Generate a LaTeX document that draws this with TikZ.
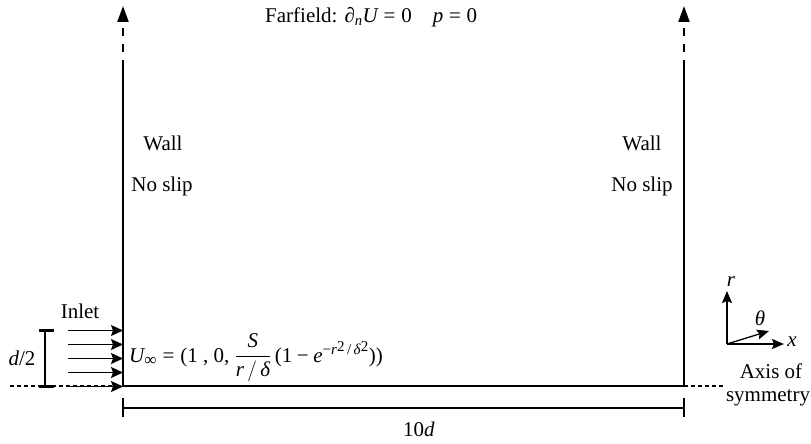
\documentclass[tikz,border=0pt]{standalone}
\usepackage{amsmath}
\usepackage{fontspec}
\setmainfont{Liberation Serif}
\newcommand{\vi}[1]{\text{\itshape #1}}
\newcommand{\vu}[1]{\text{#1}}
\newcommand{\veq}{\mathrel{\vu{=}}}
\newcommand{\vop}{\mathopen{\vu{(}}}
\newcommand{\vcl}{\mathclose{\vu{)}}}
\newcommand{\supexp}{\text{\fontsize{15}{15}\selectfont −\textit{r}\raisebox{3pt}{2}\,/\,\textit{δ}\raisebox{3pt}{2}}}
\usetikzlibrary{arrows.meta}
\begin{document}
\begin{tikzpicture}[x=1pt,y=-1pt,
  wall/.style={line width=2.2pt},
  dimline/.style={line width=2.2pt},
  axisdash/.style={line width=1.1pt,dash pattern=on 4pt off 3pt},
  topdash/.style={line width=2.2pt,dash pattern=on 8pt off 8pt},
  tip/.style={-{Triangle[length=16pt,width=11pt]}},
  inarrow/.style={line width=1.3pt,-{Stealth[length=12pt,width=11pt,inset=2pt]}},
  axarrow/.style={line width=1.3pt,-{Stealth[length=12pt,width=10pt,inset=2pt]}},
  lbl/.style={font=\fontsize{21}{25}\selectfont,inner sep=0pt}]
\useasboundingbox (0,0) rectangle (811,444);
% corners
\coordinate (BL) at (123,386);
\coordinate (BR) at (684,386);
\coordinate (TL) at (123,60);
\coordinate (TR) at (684,60);
\coordinate (TLd) at (123,52);
\coordinate (TRd) at (684,52);
\coordinate (TLa) at (123,6);
\coordinate (TRa) at (684,6);
% walls
\draw[wall] (TL) -- (BL) -- (BR) -- (TR);
\draw[topdash] (TLd) -- (123,25);
\draw[topdash] (TRd) -- (684,25);
\draw[tip, line width=2.2pt] (123,22) -- (TLa);
\draw[tip, line width=2.2pt] (684,22) -- (TRa);
% symmetry axis extensions
\coordinate (AL) at (10,386);
\coordinate (AR) at (724,386);
\draw[axisdash] (AL) -- (BL);
\draw[axisdash] (BR) -- (AR);
% dimension 10d
\coordinate (DL) at (123,408);
\coordinate (DR) at (684,408);
\draw[dimline] (DL) -- (DR);
\draw[dimline] (123,398) -- (123,417);
\draw[dimline] (684,398) -- (684,417);
\node[lbl] (ten) at (419,429) {10\textit{d}};
% d/2 bracket
\coordinate (BT) at (45,330);
\coordinate (BB) at (45,386);
\draw[line width=2.2pt] (BT) -- (BB);
\draw[line width=3pt] (38.5,330) -- (53.5,330);
\draw[line width=3pt] (38.5,386) -- (53.5,386);
\node[lbl] (dhalf) at (22,358) {\textit{d}/2};
% inlet arrows
\foreach \yy/\nm in {330.5/a,344.5/b,358.5/c,372.5/d,386.5/e}{
  \coordinate (s\nm) at (68,\yy);
  \coordinate (t\nm) at (123,\yy);
  \draw[inarrow] (s\nm) -- (t\nm);
}
\node[lbl] (inlet) at (80,311) {Inlet};
\node[lbl,anchor=base west] (uinf) at (129,362) {$\vi{U}_{\text{\fontsize{17}{17}\selectfont ∞}} \veq \vop\vu{1 , 0,}\ \dfrac{\vi{S}}{\vi{r}\,/\,\vi{δ}}\,\vop\vu{1}\mathbin{\vu{−}}\vi{e}^{\supexp}\vcl\vcl$};
% wall labels
\node[lbl] (w1) at (163,143) {Wall};
\node[lbl] (n1) at (162,186) {No slip};
\node[lbl] (w2) at (642,143) {Wall};
\node[lbl] (n2) at (642,186) {No slip};
% farfield
\node[lbl,anchor=west] (far) at (265,17) {Farfield: $\vu{∂}_{\vi{n}}\vi{U} \veq \vu{0} \quad \vi{p} \veq \vu{0}$};
% coordinate system
\coordinate (O) at (727,344);
\coordinate (Rr) at (727,291);
\coordinate (Rx) at (784,344);
\coordinate (Rt) at (769,331);
\draw[axarrow] (O) -- (Rr);
\draw[axarrow] (O) -- (Rx);
\draw[axarrow] (O) -- (Rt);
\node[lbl] (rl) at (731,282) {\textit{r}};
\node[lbl] (xl) at (792,342) {\textit{x}};
\node[lbl] (tl) at (760,318) {\textit{θ}};
\node[lbl] (ax1) at (771,371) {Axis of};
\node[lbl] (ax2) at (768,398) {symmetry};
\end{tikzpicture}
\end{document}
